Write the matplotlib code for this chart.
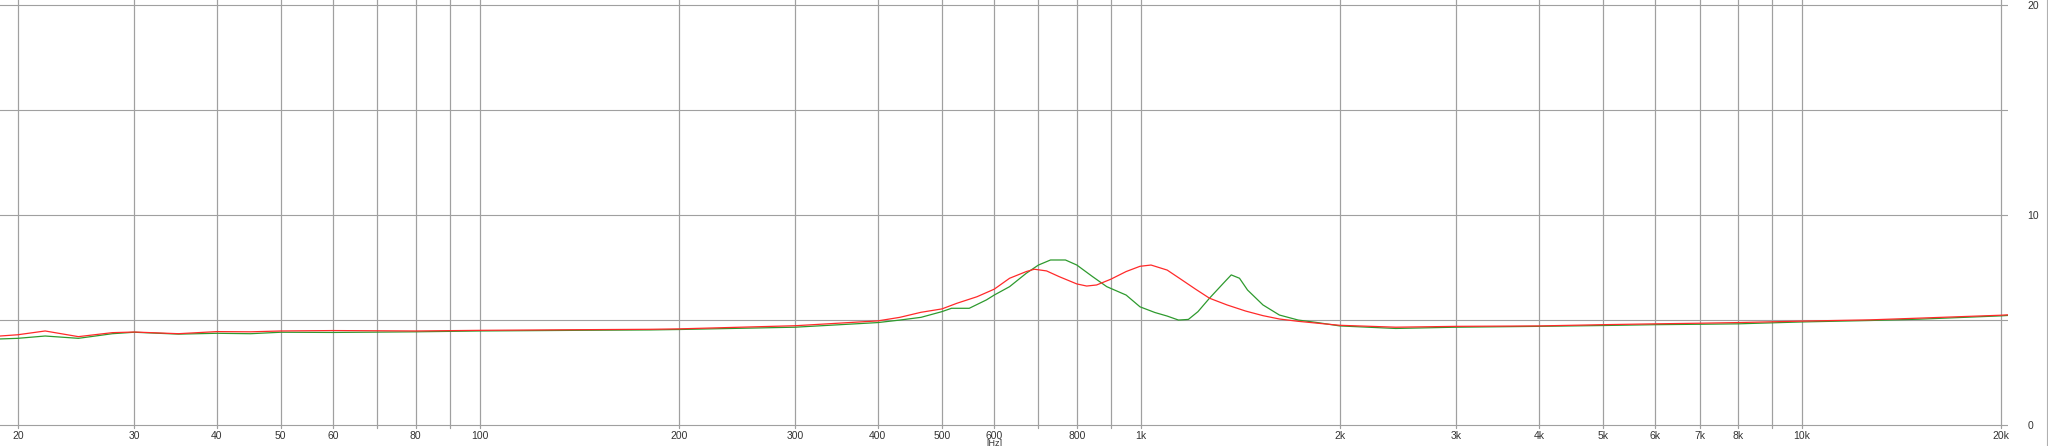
import matplotlib
matplotlib.use("Agg")
import matplotlib.pyplot as plt
import matplotlib.transforms as mtransforms
from matplotlib.lines import Line2D

plt.rcParams['font.family'] = ['Liberation Sans', 'DejaVu Sans']

# frequency response, two channels (dB vs Hz)
red_freq = [18.8, 20, 22, 24.7, 27.8, 30, 35, 40, 45, 50, 60, 80, 100, 140, 181, 200,
            300, 400, 432, 465, 500, 527, 565, 600, 633, 671, 690, 720, 752, 800, 828,
            857, 900, 950, 997, 1036, 1096, 1150, 1210, 1270, 1350, 1440, 1530, 1620,
            1730, 1850, 2000, 2430, 3000, 4000, 5000, 6000, 7000, 8000, 10000, 12700,
            15000, 20000, 20500]
red_db = [4.26, 4.32, 4.50, 4.23, 4.42, 4.45, 4.37, 4.47, 4.46, 4.50, 4.52, 4.50, 4.53,
          4.56, 4.58, 4.60, 4.75, 4.98, 5.15, 5.39, 5.55, 5.82, 6.13, 6.49, 7.01, 7.33,
          7.44, 7.36, 7.09, 6.74, 6.64, 6.69, 6.96, 7.33, 7.58, 7.64, 7.40, 6.96, 6.49,
          6.06, 5.74, 5.45, 5.23, 5.07, 4.96, 4.87, 4.77, 4.68, 4.72, 4.74, 4.80, 4.84,
          4.87, 4.90, 4.97, 5.03, 5.11, 5.25, 5.27]

green_freq = [18.8, 20, 22, 24.7, 27.8, 30, 35, 40, 45, 50, 60, 80, 100, 140, 181, 200,
              300, 400, 432, 465, 500, 517, 550, 584, 600, 633, 671, 700, 730, 769, 800,
              845, 888, 950, 997, 1050, 1096, 1140, 1180, 1220, 1270, 1340, 1370, 1410,
              1450, 1530, 1620, 1730, 1850, 2000, 2430, 3000, 4000, 5000, 6000, 7000,
              8000, 10000, 12700, 15000, 20000, 20500]
green_db = [4.12, 4.15, 4.26, 4.15, 4.37, 4.44, 4.35, 4.39, 4.37, 4.44, 4.43, 4.46, 4.50,
            4.53, 4.55, 4.57, 4.68, 4.90, 5.02, 5.15, 5.42, 5.58, 5.58, 5.98, 6.21, 6.61,
            7.25, 7.64, 7.88, 7.88, 7.64, 7.09, 6.61, 6.21, 5.65, 5.38, 5.21, 5.02, 5.05,
            5.42, 6.06, 6.85, 7.17, 7.01, 6.45, 5.74, 5.26, 5.02, 4.90, 4.74, 4.62, 4.68,
            4.72, 4.76, 4.80, 4.82, 4.84, 4.93, 5.00, 5.06, 5.22, 5.24]

x_grid = [20, 30, 40, 50, 60, 70, 80, 90, 100, 200, 300, 400, 500, 600, 700, 800, 900,
          1000, 2000, 3000, 4000, 5000, 6000, 7000, 8000, 9000, 10000, 20000]
x_labels = ['20', '30', '40', '50', '60', '', '80', '', '100', '200', '300', '400', '500',
            '600', '', '800', '', '1k', '2k', '3k', '4k', '5k', '6k', '7k', '8k', '',
            '10k', '20k']
y_grid = [0, 5, 10, 15, 20]
y_labels = ['0', '', '10', '', '20']

W, H = 2048, 446
fig = plt.figure(figsize=(W / 100, H / 100), dpi=100)
ax = fig.add_axes([0, 18 / H, 2008 / W, 1 - 18 / H])

grid_col = '#a0a0a0'
ax.plot(green_freq, green_db, color='#2e9a2e', lw=0.9, zorder=3)
ax.plot(red_freq, red_db, color='#ff2a2a', lw=0.9, zorder=3)

ax.set_xscale('log')
ax.set_xlim(18.8, 20500)
ax.set_ylim(-0.12, 20.26)

ax.xaxis.set_minor_locator(matplotlib.ticker.NullLocator())
ax.set_xticks(x_grid)
ax.set_xticklabels(x_labels)
ax.set_yticks(y_grid)
ax.set_yticklabels(y_labels)
ax.yaxis.tick_right()
ax.grid(True, color=grid_col, lw=0.8, zorder=1)
ax.tick_params(axis='x', length=0, pad=2.5, labelsize=7.5, colors='#333333')
ax.tick_params(axis='y', length=0, pad=14, labelsize=7.5, colors='#333333')
for s in ax.spines.values():
    s.set_visible(False)

# vertical grid lines run to the top of the picture
for f in x_grid:
    ax.plot([f, f], [-0.12, 20.26], color=grid_col, lw=0.8, zorder=1, clip_on=False)

trans = mtransforms.blended_transform_factory(ax.transData, fig.transFigure)
ax.text(600, 1 - 439 / H, '[Hz]', transform=trans, ha='center', va='top',
        fontsize=6.5, color='#333333')

fig.add_artist(Line2D([2046.5 / W, 2046.5 / W], [0, 1], color='#b0b0b0', lw=0.8))

fig.savefig('out.png', dpi=100)
